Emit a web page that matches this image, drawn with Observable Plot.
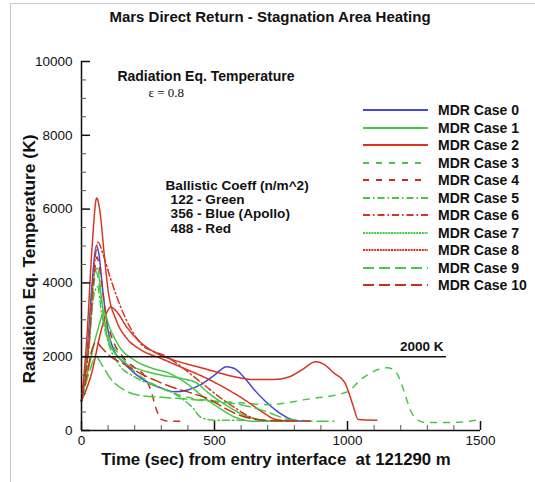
<!DOCTYPE html>
<html><head><meta charset="utf-8">
<script src="https://cdn.jsdelivr.net/npm/d3@7"></script>
<script src="https://cdn.jsdelivr.net/npm/@observablehq/plot@0.6"></script>
<style>
body{margin:0;background:#fff;font-family:"Liberation Sans",Arial,Helvetica,sans-serif;}
#wrap{position:relative;width:535px;height:482px;overflow:hidden;background:#fff;}
#frame{position:absolute;left:10px;top:3px;width:540px;height:500px;border-left:1px solid #c8c8c8;border-top:1px solid #c8c8c8;}
#chart{position:absolute;left:0;top:0;}
#title{position:absolute;left:0;width:540px;top:8px;text-align:center;font-weight:bold;font-size:15px;color:#111;}
#xtitle{position:absolute;left:0;width:552px;top:450px;text-align:center;font-weight:bold;font-size:16.8px;white-space:pre;color:#111;}
#ytitle{position:absolute;left:29px;top:259px;transform:translate(-50%,-50%) rotate(-90deg);font-weight:bold;font-size:17.4px;white-space:nowrap;color:#111;}
#legend{position:absolute;left:362px;top:101px;}
.row{position:absolute;left:0;height:18px;white-space:nowrap;}
.row svg{position:absolute;left:0;top:4px;}
.row span{position:absolute;left:76px;top:0;font-weight:bold;font-size:14px;line-height:18px;color:#111;}
</style>
</head><body>
<div id="wrap">
<div id="frame"></div>
<div id="chart"></div>
<div id="title">Mars Direct Return - Stagnation Area Heating</div>
<div id="xtitle">Time (sec) from entry interface  at 121290 m</div>
<div id="ytitle">Radiation Eq. Temperature (K)</div>
<div id="legend"></div>
</div>
<script>
// ---- data (time s, temperature K) ----
const caseNames = ["MDR Case 0","MDR Case 1","MDR Case 2","MDR Case 3","MDR Case 4","MDR Case 5","MDR Case 6","MDR Case 7","MDR Case 8","MDR Case 9","MDR Case 10"];
const case0 = [[0,800],[20,2000],[40,4000],[55,5000],[65,4800],[80,3800],[100,2700],[120,2200],[150,1900],[200,1550],[250,1300],[300,1150],[350,1050],[400,1100],[450,1250],[500,1500],[545,1730],[575,1680],[610,1450],[650,1100],[690,800],[740,500],[790,300],[830,250]];
const case1 = [[0,800],[25,2200],[50,4300],[60,4400],[75,3600],[95,2600],[120,2150],[160,1850],[220,1650],[300,1500],[380,1400],[430,1300],[480,1000],[540,700],[600,450],[660,300],[720,250],[780,250]];
const case2 = [[0,800],[40,1600],[70,2600],[95,3200],[110,3350],[135,3200],[170,2800],[220,2400],[280,2100],[350,1900],[450,1700],[550,1500],[650,1380],[720,1380],[780,1450],[830,1650],[880,1860],[910,1800],[950,1550],[990,1300],[1020,700],[1040,300],[1110,280]];
const case3 = [[0,800],[30,2500],[55,4300],[75,3500],[100,2600],[150,2000],[200,1600],[300,1150],[400,900],[500,800],[600,750],[700,700],[850,850],[1000,1050],[1050,1380],[1150,1700],[1180,1600],[1250,380],[1290,220],[1400,220],[1500,300]];
const case4 = [[0,800],[25,2200],[45,4000],[58,4700],[72,4200],[90,3200],[115,2500],[150,2050],[200,1700],[235,1500],[260,1100],[285,500],[300,300],[330,250],[390,250]];
const case5 = [[0,800],[25,2000],[45,3600],[60,3900],[75,3200],[100,2400],[140,1800],[200,1450],[280,1200],[360,950],[420,600],[450,350],[500,280],[620,280]];
const case6 = [[0,800],[30,2500],[50,4600],[62,5100],[80,4800],[110,4100],[150,3300],[190,2700],[230,2300],[270,2150],[320,2000],[380,1700],[450,1300],[520,900],[580,600],[640,350],[700,250]];
const case7 = [[0,800],[30,1800],[60,2700],[85,3200],[105,2800],[140,2300],[200,1900],[260,1700],[330,1550],[400,1250],[460,900],[520,600],[580,350],[650,250],[700,250]];
const case8 = [[0,800],[20,2500],[40,5000],[57,6300],[70,5900],[85,4800],[100,3800],[130,3000],[170,2500],[220,2200],[300,1950],[380,1700],[460,1450],[540,1150],[620,800],[680,500],[730,300],[800,250]];
const case9 = [[0,800],[30,1600],[55,2000],[75,1800],[110,1400],[160,1100],[220,950],[300,900],[400,850],[500,780],[600,700],[700,500],[780,300],[900,250],[950,250]];
const case10 = [[0,800],[20,1500],[40,2200],[55,2400],[75,2250],[110,2000],[160,1800],[220,1550],[280,1350],[350,1150],[420,1000],[480,850],[540,600],[600,400],[660,300],[760,260],[860,260]];
const allCases = [case0,case1,case2,case3,case4,case5,case6,case7,case8,case9,case10];
const xMajor = [0,500,1000,1500];
const xMinor = [100,200,300,400,600,700,800,900,1100,1200,1300,1400];
const yMajor = [0,2000,4000,6000,8000,10000];
const yMinor = [500,1000,1500,2500,3000,3500,4500,5000,5500,6500,7000,7500,8500,9000,9500];
const threshold = [2000];
const notes = [
  {t:135, T:9590, text:"Radiation Eq. Temperature"},
  {t:316, T:6640, text:"Ballistic Coeff (n/m^2)"},
  {t:335, T:6260, text:"122 - Green"},
  {t:335, T:5880, text:"356 - Blue (Apollo)"},
  {t:335, T:5470, text:"488 - Red"}
];

// ---- styles ----
const BLUE="#4646e6", GREEN="#46c846", RED="#d8341f", DRED="#c4301c";
const styles = [
  {stroke:BLUE, dash:null},
  {stroke:GREEN, dash:null},
  {stroke:RED, dash:null},
  {stroke:GREEN, dash:"6,7"},
  {stroke:DRED, dash:"6,7"},
  {stroke:GREEN, dash:"7,3,1.5,3"},
  {stroke:RED, dash:"7,3,1.5,3"},
  {stroke:GREEN, dash:"2,0.8"},
  {stroke:RED, dash:"2,0.8"},
  {stroke:GREEN, dash:"11,5"},
  {stroke:DRED, dash:"11,5"}
];

const lineMarks = allCases.map((c,i)=>Plot.line(c,{x:d=>d[0], y:d=>d[1], stroke:styles[i].stroke, strokeWidth:1.5, strokeDasharray:styles[i].dash, curve:"monotone-x"}));

const chart = Plot.plot({
  width:535, height:482,
  marginLeft:81, marginRight:55, marginTop:61, marginBottom:52,
  x:{domain:[0,1500]}, y:{domain:[0,10000]},
  style:{fontFamily:"'Liberation Sans',Arial,sans-serif", background:"transparent", color:"#111"},
  marks:[
    ...lineMarks,
    Plot.ruleY(threshold,{x1:0, x2:1372, stroke:"#111", strokeWidth:1.5}),
    Plot.text(threshold,{x:1361, y:d=>d, text:()=>"2000 K", textAnchor:"end", dy:-10, fontWeight:"bold", fontSize:13.5, fill:"#111"}),
    Plot.text(notes.slice(0,1),{x:"t", y:"T", text:"text", textAnchor:"start", fontWeight:"bold", fontSize:14, fill:"#111"}),
    Plot.text(notes.slice(1),{x:"t", y:"T", text:"text", textAnchor:"start", fontWeight:"bold", fontSize:13.6, fill:"#111"}),
    Plot.text(["\u03b5 = 0.8"],{x:252, y:9160, text:d=>d, textAnchor:"start", fontFamily:"'Liberation Serif','DejaVu Serif',serif", fontSize:13, fill:"#111"}),
    Plot.ruleY([0],{x1:0, x2:1500, stroke:"#111", strokeWidth:1.5}),
    Plot.ruleX([0],{y1:0, y2:10000, stroke:"#111", strokeWidth:1.5}),
    Plot.ruleX(xMajor,{y1:0, y2:0, insetTop:-9, stroke:"#111", strokeWidth:1.5}),
    Plot.ruleX(xMinor,{y1:0, y2:0, insetTop:-5, stroke:"#555", strokeWidth:1}),
    Plot.ruleY(yMajor,{x1:0, x2:0, insetRight:-9, stroke:"#111", strokeWidth:1.5}),
    Plot.ruleY(yMinor,{x1:0, x2:0, insetRight:-5, stroke:"#555", strokeWidth:1}),
    Plot.axisX(xMajor,{tickSize:0, tickPadding:5, fontSize:13.5, label:null, tickFormat:d=>String(d)}),
    Plot.axisY(yMajor,{tickSize:0, tickPadding:9, fontSize:13.5, label:null, tickFormat:d=>String(d)})
  ]
});
document.getElementById("chart").appendChild(chart);

// legend
const leg = document.getElementById("legend");
caseNames.forEach((name,i)=>{
  const row=document.createElement("div");
  row.className="row";
  row.style.top=(i*17.5)+"px";
  const s=styles[i];
  row.innerHTML=`<svg width="68" height="10"><line x1="1" y1="5" x2="66" y2="5" stroke="${s.stroke}" stroke-width="2" ${s.dash?`stroke-dasharray="${s.dash}"`:""}/></svg><span>${name}</span>`;
  leg.appendChild(row);
});
</script>
</body></html>
